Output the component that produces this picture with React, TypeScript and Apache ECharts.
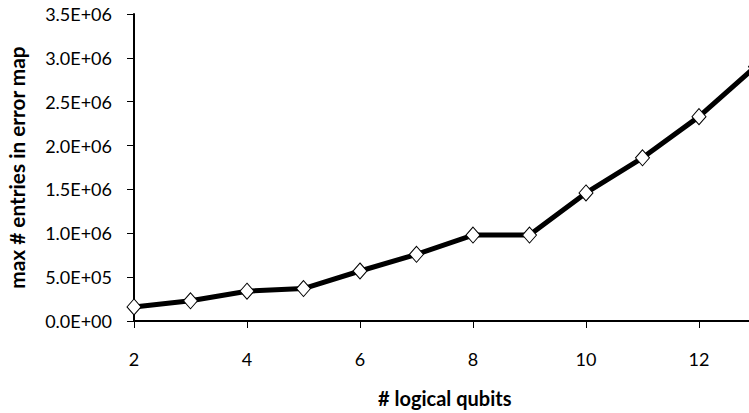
import React, { useEffect, useRef } from "react";
import * as echarts from "echarts";

const qubits = [2, 3, 4, 5, 6, 7, 8, 9, 10, 11, 12, 13];
const maxEntries = [160000, 230000, 340000, 370000, 570000, 760000, 980000, 980000, 1460000, 1860000, 2330000, 2900000];
const yTitle = "max # entries in error map";
const xTitle = "# logical qubits";

const FONT = "Lato";

function fmtExp(v: number): string {
  const [m, e] = v.toExponential(1).split("e");
  const sign = e[0] === "-" ? "-" : "+";
  const digits = e.replace(/[+-]/, "").padStart(2, "0");
  return `${m}E${sign}${digits}`;
}

export default function App() {
  const ref = useRef<HTMLDivElement>(null);
  useEffect(() => {
    if (!ref.current) return;
    const chart = echarts.init(ref.current, undefined, { renderer: "svg" });
    chart.setOption({
      animation: false,
      backgroundColor: "#ffffff",
      grid: { left: 134, top: 14, bottom: 92, right: -6.5, containLabel: false, outerBoundsMode: "none" },
      xAxis: {
        type: "value",
        min: 2,
        max: 13,
        interval: 2,
        name: xTitle,
        nameLocation: "middle",
        nameGap: 67,
        nameTextStyle: { fontFamily: FONT, fontWeight: "bold", fontSize: 20, color: "#000" },
        axisLine: { lineStyle: { color: "#000", width: 2 } },
        axisTick: { show: true, length: 7, lineStyle: { color: "#000", width: 1 } },
        axisLabel: { showMaxLabel: false, margin: 29, fontFamily: FONT, fontSize: 18, color: "#000" },
        splitLine: { show: false },
      },
      yAxis: {
        type: "value",
        min: 0,
        max: 3500000,
        interval: 500000,
        name: yTitle,
        nameLocation: "middle",
        nameGap: 107,
        nameRotate: 90,
        nameTextStyle: { fontFamily: FONT, fontWeight: "bold", fontSize: 20.8, color: "#000" },
        axisLine: { show: true, lineStyle: { color: "#000", width: 2 } },
        axisTick: { show: true, length: 7, lineStyle: { color: "#000", width: 1 } },
        axisLabel: { margin: 22, fontFamily: FONT, fontSize: 18, color: "#000", formatter: (v: number) => fmtExp(v) },
        splitLine: { show: false },
      },
      series: [
        {
          type: "line",
          data: qubits.map((q, i) => [q, maxEntries[i]]),
          lineStyle: { color: "#000", width: 5 },
          symbol: "diamond",
          symbolSize: [14, 16],
          itemStyle: { color: "#fff", borderColor: "#000", borderWidth: 1 },
          clip: true,
        },
      ],
    });
    return () => chart.dispose();
  }, []);
  return <div ref={ref} style={{ position: "fixed", left: 0, top: 0, width: 749, height: 413 }} />;
}
